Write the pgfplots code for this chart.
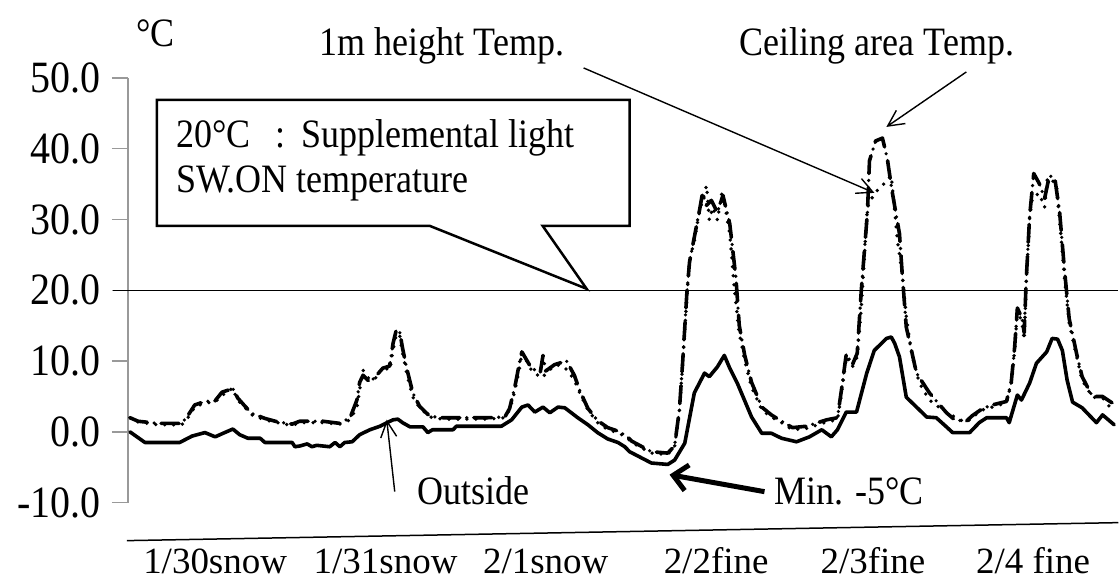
\documentclass[border=0pt]{standalone}
\usepackage{fontspec}
\setmainfont{Liberation Serif}
\usepackage{graphicx}
\usepackage{pgfplots}
\usepackage{pgfplotstable}
\pgfplotsset{compat=1.18}
\usetikzlibrary{calc, arrows.meta}

\newcommand\tall[1]{\scalebox{1}[1.12]{#1}}

% hour (0 = 1/30 0:00), temperature in degC
\pgfplotstableread{
h t
0 0.0
2.2 -1.5
7.3 -1.5
9.1 -0.6
11.0 -0.1
12.5 -0.7
13.9 -0.1
15.1 0.4
16.1 -0.4
17.3 -0.9
19.1 -0.9
19.8 -1.5
23.8 -1.5
24.2 -2.1
24.9 -2.0
26.0 -1.7
26.7 -2.1
27.4 -1.9
29.3 -2.1
30.1 -1.5
30.8 -2.1
31.5 -1.5
32.6 -1.4
33.7 -0.4
35.2 0.3
36.7 0.8
37.7 1.3
38.6 1.7
39.3 1.8
40.0 1.3
41.1 0.7
43.0 0.7
43.7 -0.1
44.4 0.3
47.4 0.3
47.9 0.8
54.5 0.8
56.0 1.7
57.5 3.5
58.4 3.8
59.4 2.8
60.6 3.5
61.6 2.7
62.8 3.5
63.8 3.4
65.7 2.0
67.2 1.0
68.6 -0.1
70.1 -1.0
71.6 -1.5
72.6 -2.1
73.3 -2.8
76.5 -4.4
78.9 -4.6
79.9 -4.0
81.4 -1.6
82.8 5.5
84.3 8.3
85.0 7.8
86.2 9.2
87.2 10.8
88.0 9.0
89.1 6.9
91.2 2.1
92.7 -0.2
94.1 -0.2
95.6 -0.9
97.8 -1.4
99.7 -0.7
101.5 0.3
102.9 -0.7
103.8 0.3
105.1 2.8
106.6 2.8
108.1 8.3
109.2 11.5
111.0 13.2
111.7 13.4
112.2 12.5
112.9 10.6
113.9 4.9
115.4 3.5
116.9 2.1
118.3 2.0
119.8 0.7
120.7 -0.1
123.2 -0.1
124.6 1.3
125.7 2.0
128.6 2.0
129.0 1.3
130.2 5.2
130.8 4.5
132.0 6.9
133.0 9.7
134.5 11.3
135.3 13.2
136.1 13.1
136.8 11.5
137.5 7.3
138.3 4.2
139.7 3.4
141.8 1.3
142.7 2.4
144.4 1.0
}\outside

\pgfplotstableread{
h t
0 2.0
1.2 1.4
4.1 1.0
7.6 1.0
8.5 2.0
9.5 3.5
11.0 4.1
12.5 4.2
13.5 5.2
14.4 5.6
15.0 6.2
15.8 4.5
16.9 3.4
17.9 2.4
19.8 1.7
21.7 1.3
23.8 0.9
24.9 1.3
28.3 1.3
30.8 1.1
32.3 1.7
33.3 3.5
33.7 5.9
34.2 8.7
35.2 7.3
36.2 7.7
37.1 9.2
38.1 8.7
38.6 11.5
39.1 13.9
39.6 13.5
40.0 11.1
40.6 8.3
41.5 4.9
42.5 3.4
44.0 2.1
45.9 1.8
49.1 1.8
52.5 1.8
55.0 2.0
55.7 3.1
56.5 5.9
57.2 9.2
57.5 11.3
58.9 8.7
60.4 7.6
61.3 8.5
62.3 9.4
63.3 9.4
64.2 8.7
65.2 7.3
66.0 5.5
67.2 3.1
68.6 1.3
70.1 0.3
71.6 -0.1
72.9 -0.8
73.6 -1.5
76.5 -3.0
78.9 -3.2
79.9 -2.1
80.6 2.7
81.1 9.7
81.7 19.0
82.1 24.2
82.8 27.0
83.6 31.3
84.6 34.8
85.0 29.9
85.5 31.7
86.2 29.9
86.9 34.1
88.0 28.0
88.7 20.0
89.4 13.9
90.2 10.1
91.2 6.3
92.7 3.1
94.1 2.1
95.6 1.3
97.2 0.3
99.3 0.5
102.2 1.4
103.8 1.7
104.4 5.5
105.1 10.6
106.0 9.2
106.7 10.6
107.3 17.6
107.8 25.6
108.2 31.7
109.2 33.7
110.4 34.8
111.7 36.2
112.2 31.3
112.6 27.0
113.3 22.4
113.9 16.2
114.7 11.1
115.8 6.9
117.3 4.5
119.2 3.1
121.0 2.1
122.7 1.3
123.6 2.1
125.1 3.1
126.5 3.5
128.6 4.1
129.3 6.9
129.8 11.5
130.2 17.2
130.9 15.4
131.2 13.0
131.5 21.0
132.0 30.3
132.4 33.1
133.4 33.7
134.2 31.7
134.6 35.9
135.9 35.1
136.4 29.9
137.1 21.8
137.8 15.4
138.9 10.6
139.7 7.3
141.2 4.9
142.7 4.8
144.1 3.1
}\onem

\pgfplotstableread{
h t
0 2.0
1.2 1.5
4.1 1.2
7.6 1.2
8.5 2.3
9.5 3.8
11.0 4.3
12.5 4.4
13.5 5.6
14.4 5.9
15.0 6.3
15.8 4.8
16.9 3.6
17.9 2.6
19.8 1.9
21.7 1.4
23.8 1.1
24.9 1.5
28.3 1.5
30.8 1.2
32.3 2.0
33.3 4.5
33.7 7.0
34.2 8.0
35.2 7.0
36.2 8.0
37.1 9.0
38.1 9.3
38.6 12.5
39.1 14.5
39.6 14.0
40.0 11.8
40.6 9.0
41.5 5.5
42.5 3.6
44.0 2.2
45.9 2.0
49.1 2.0
52.5 2.0
55.0 2.1
55.7 3.3
56.5 6.5
57.2 10.0
57.5 11.3
58.9 9.0
60.2 8.4
60.6 10.8
61.0 8.6
62.3 9.5
63.3 9.8
64.0 10.1
65.2 8.0
66.0 5.8
67.2 3.3
68.6 1.6
70.1 0.6
71.6 0.1
72.9 -0.6
73.6 -1.3
76.5 -2.8
78.9 -3.0
79.9 -2.0
80.6 3.0
81.1 10.0
81.7 19.5
82.1 24.0
82.8 27.5
83.6 31.5
84.0 33.7
84.6 32.0
85.3 32.7
86.2 31.0
87.0 33.4
88.0 29.4
88.9 21.8
89.4 15.0
90.2 10.8
91.2 7.0
92.7 3.5
94.1 2.4
95.6 1.5
97.2 0.6
99.3 0.8
102.2 1.7
103.8 2.0
104.4 6.0
105.1 11.0
106.0 9.5
106.7 11.1
107.3 20.0
108.2 31.0
108.5 38.3
109.4 41.1
110.4 41.5
111.1 38.7
111.8 34.1
112.9 28.0
113.3 22.4
113.9 14.8
115.4 8.3
117.3 5.5
119.8 2.7
121.0 1.7
122.7 1.5
123.6 2.3
125.1 3.3
126.5 3.8
128.6 4.3
129.3 7.0
129.8 12.0
130.2 17.5
130.9 16.0
131.2 14.0
131.5 21.5
132.0 30.5
132.6 36.5
133.4 35.1
134.2 33.0
134.9 36.2
135.7 35.8
136.4 31.0
137.1 23.0
137.8 16.0
138.9 11.0
139.7 7.8
141.2 5.0
142.7 5.0
144.1 4.1
}\ceiling

\begin{document}
\begin{tikzpicture}
\begin{axis}[
    scale only axis,
    width=991pt, height=425pt,
    xmin=-0.3, xmax=145,
    ymin=-10, ymax=50,
    axis y line=left,
    axis x line=bottom,
    x axis line style={draw=none},
    y axis line style={draw=black!40, line width=1.5pt, -},
    ytick={-10,0,10,20,30,40,50},
    major y tick style={draw=black!40, line width=1.5pt},
    tick align=outside,
    major tick length=16pt,
    major x tick style={draw=none},
    xtick={12.5,37.5,61,86,109,132.5},
    xticklabels={1/30snow, 1/31snow, 2/1snow, 2/2fine, 2/3fine, 2/4 fine},
    xticklabel style={anchor=base, yshift=-55pt, font=\fontsize{37}{40}\selectfont},
    yticklabel={\tall{\pgfmathprintnumber{\tick}}},
    yticklabel style={xshift=-8pt, font=\fontsize{40}{42}\selectfont, /pgf/number format/.cd, fixed, fixed zerofill, precision=1, assume math mode=true},
    every axis plot/.append style={black, line join=round},
]
\addplot[line width=3.6pt, line cap=round, dash pattern=on 18pt off 7pt on 0pt off 7pt] table[x=h, y=t] {\ceiling};
\addplot[line width=3.8pt, line cap=round, dash pattern=on 0pt off 9pt] table[x=h, y=t] {\onem};
\addplot[line width=3.6pt, line cap=round] table[x=h, y=t] {\outside};
\coordinate (bl) at (rel axis cs:0,0);
\coordinate (tr) at (rel axis cs:1,1);
\end{axis}
\begin{scope}[shift={($(bl)+(-128pt,503pt)$)}, x=1pt, y=-1pt, font=\fontsize{36}{40}\selectfont]
  % picture frame (1119 x 585)
  \path (0,0) rectangle (1119,585);
  % 20 degC switching line
  \draw[line width=1.5pt] (113,290.5) -- (1119,290.5);
  % stray slanted rule above the date labels
  \draw[line width=1.5pt] (127,541) -- (1119,523);
  % unit
  \node[anchor=base west, inner sep=0] at (136,47) {\tall{°C}};
  % callout
  \draw[line width=2.5pt, fill=white, line join=miter]
    (157,100) -- (630,100) -- (630,226) -- (543,226) -- (587,289) -- (430,226) -- (157,226) -- cycle;
  \node[anchor=base west, inner sep=0] at (176,148) {\tall{20°C\hspace{0.7em}:\hspace{0.45em}Supplemental light}};
  \node[anchor=base west, inner sep=0] at (176,193) {\tall{SW.ON temperature}};
  % series labels
  \node[anchor=base west, inner sep=0] at (320,56) {\tall{1m height Temp.}};
  \draw[line width=1.4pt, -{Straight Barb[length=16pt, width=16pt, line width=1.4pt]}] (584,68) -- (875,193);
  \node[anchor=base east, inner sep=0] at (1015,56) {\tall{Ceiling area Temp.}};
  \draw[line width=1.4pt, -{Straight Barb[length=16pt, width=16pt, line width=1.4pt]}] (967,72) -- (887,127);
  \node[anchor=base west, inner sep=0] at (418,505) {\tall{Outside}};
  \draw[line width=1.4pt, -{Straight Barb[length=16pt, width=16pt, line width=1.4pt]}] (395,492) -- (387,420);
  \node[anchor=base west, inner sep=0] at (775,505) {\tall{Min. -5°C}};
  \draw[line width=5pt, -{Straight Barb[length=14pt, width=26pt, line width=5pt]}] (765,492) -- (670,475);
\end{scope}
\end{tikzpicture}
\end{document}
